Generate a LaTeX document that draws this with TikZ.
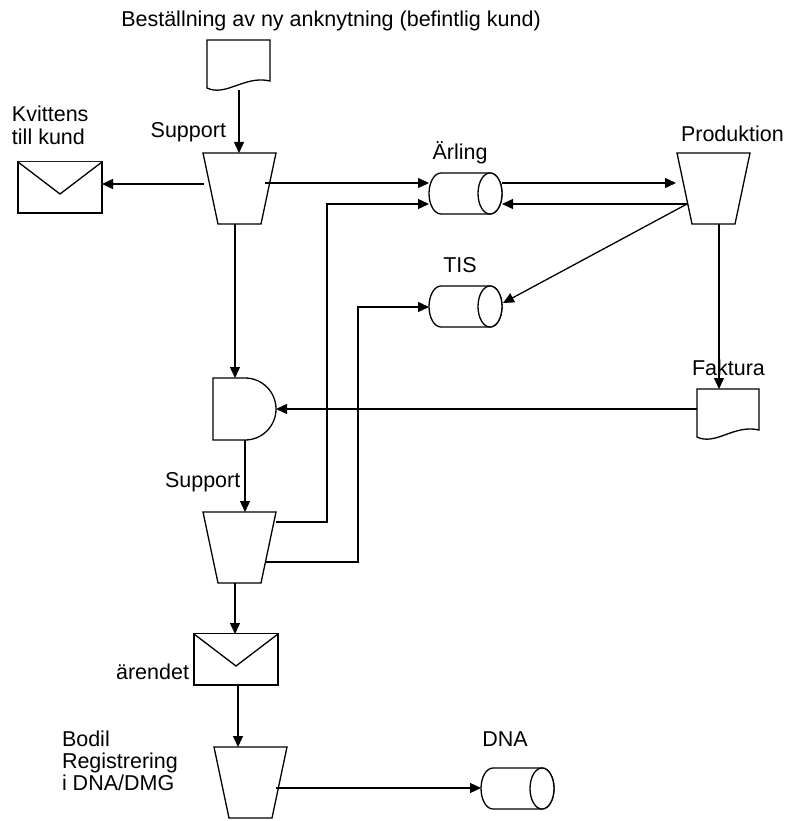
\documentclass[tikz,border=0pt]{standalone}
\usepackage{fontspec}
\setmainfont{Liberation Sans}
\usetikzlibrary{arrows.meta}

% flowchart symbols, drawn from their top-left corner
\newcommand\DrawTrap[2]{%
  \draw[shp] (#1,#2) -- (#1+73,#2) -- (#1+58,#2+71) -- (#1+15,#2+71) -- cycle;}
\newcommand\DrawDrum[2]{%
  \draw[shp] (#1+12,#2) -- (#1+61,#2)
    arc[start angle=90,end angle=-90,x radius=12pt,y radius=20.5pt]
    -- (#1+12,#2+41)
    arc[start angle=270,end angle=90,x radius=12pt,y radius=20.5pt] -- cycle;
  \draw[shp] (#1+61,#2+20.5) ellipse[x radius=12pt,y radius=20.5pt];}
\newcommand\DrawDoc[4]{%
  \draw[shp] (#1,#2) -- (#1+#3,#2) -- (#1+#3,#2+#4-7)
    .. controls (#1+0.6*#3,#2+#4-13) and (#1+0.3*#3,#2+#4+9) .. (#1,#2+#4) -- cycle;}
\newcommand\DrawEnv[2]{%
  \draw[shp] (#1,#2) rectangle (#1+84,#2+51);
  \draw[shp] (#1,#2) -- (#1+42,#2+32) -- (#1+84,#2);}

\tikzset{
  shp/.style={draw=black, line width=1.3pt, fill=white, line join=miter},
  conn/.style={draw=black, line width=1.3pt},
  arr/.style={conn, -{Triangle[length=11pt,width=10pt]}},
  lbl/.style={font=\fontsize{21.5}{24}\selectfont, inner sep=0pt, outer sep=0pt},
}

\begin{document}
\begin{tikzpicture}[x=1pt,y=-1pt]
\useasboundingbox (0,0) rectangle (786,821);

% ---- symbols ----
\DrawDoc{207}{40}{63}{48}     % order document
\DrawTrap{203}{153}           % Support
\DrawEnv{18}{162}             % receipt to customer
\DrawDrum{429}{173}           % Ärling
\DrawDrum{429}{286}           % TIS
\DrawTrap{677}{153}           % Produktion
\DrawDoc{697}{389}{62}{48}    % Faktura
\draw[shp] (213,378) -- (245,378) arc[start angle=90,end angle=-90,radius=31pt] -- (213,440) -- cycle; % merge
\DrawTrap{203}{512}           % Support (second)
\DrawEnv{194}{634}            % ärendet
\DrawTrap{214}{747}           % Bodil
\DrawDrum{481}{768}           % DNA

% ---- connection points ----
\coordinate (docB)  at (239,90);
\coordinate (s1T)   at (239,153);
\coordinate (s1W)   at (204,184);
\coordinate (kvE)   at (102,184);
\coordinate (s1E)   at (265,183);
\coordinate (arlW1) at (429,183);
\coordinate (arlE1) at (502,183);
\coordinate (prW1)  at (676,183);
\coordinate (prW2)  at (687,204);
\coordinate (arlE2) at (502,204);
\coordinate (tisE)  at (503,303);
\coordinate (prB)   at (719,224);
\coordinate (fkT)   at (719,389);
\coordinate (fkW)   at (697,409);
\coordinate (andE)  at (276,409);
\coordinate (s1B)   at (235,224);
\coordinate (andT)  at (235,378);
\coordinate (andB)  at (245,440);
\coordinate (s2T)   at (245,512);
\coordinate (s2E1)  at (276,522);
\coordinate (j1a)   at (327,522);
\coordinate (j1b)   at (327,204);
\coordinate (arlW2) at (429,204);
\coordinate (s2E2)  at (265,562);
\coordinate (j2a)   at (358,562);
\coordinate (j2b)   at (358,307);
\coordinate (tisW)  at (429,307);
\coordinate (s2B)   at (235,583);
\coordinate (enT)   at (235,634);
\coordinate (enB)   at (238,686);
\coordinate (s3T)   at (238,747);
\coordinate (s3E)   at (276,788);
\coordinate (dnaW)  at (481,788);

% ---- connectors ----
\draw[arr] (docB) -- (s1T);
\draw[arr] (s1W) -- (kvE);
\draw[arr] (s1E) -- (arlW1);
\draw[arr] (arlE1) -- (prW1);
\draw[arr] (prW2) -- (arlE2);
\draw[arr] (prW2) -- (tisE);
\draw[arr] (prB) -- (fkT);
\draw[arr] (fkW) -- (andE);
\draw[arr] (s1B) -- (andT);
\draw[arr] (andB) -- (s2T);
\draw[arr] (s2E1) -- (j1a) -- (j1b) -- (arlW2);
\draw[arr] (s2E2) -- (j2a) -- (j2b) -- (tisW);
\draw[arr] (s2B) -- (enT);
\draw[arr] (enB) -- (s3T);
\draw[arr] (s3E) -- (dnaW);

% ---- labels ----
\node[lbl, anchor=base] (tOrder) at (331,27) {Beställning av ny anknytning (befintlig kund)};
\node[lbl, anchor=base west] (tKv1) at (12,122) {Kvittens};
\node[lbl, anchor=base west] (tKv2) at (12,145) {till kund};
\node[lbl, anchor=base east] (tSup1) at (226,138) {Support};
\node[lbl, anchor=base] (tArl) at (460,160) {Ärling};
\node[lbl, anchor=base] (tTis) at (460,272) {TIS};
\node[lbl, anchor=base west] (tProd) at (681,142) {Produktion};
\node[lbl, anchor=base west] (tFak) at (692,375) {Faktura};
\node[lbl, anchor=base west] (tSup2) at (165,487) {Support};
\node[lbl, anchor=base east] (tAr) at (189,679) {ärendet};
\node[lbl, anchor=base west] (tBo1) at (62,746) {Bodil};
\node[lbl, anchor=base west] (tBo2) at (62,768) {Registrering};
\node[lbl, anchor=base west] (tBo3) at (62,790) {i DNA/DMG};
\node[lbl, anchor=base] (tDna) at (505,746) {DNA};
\end{tikzpicture}
\end{document}
